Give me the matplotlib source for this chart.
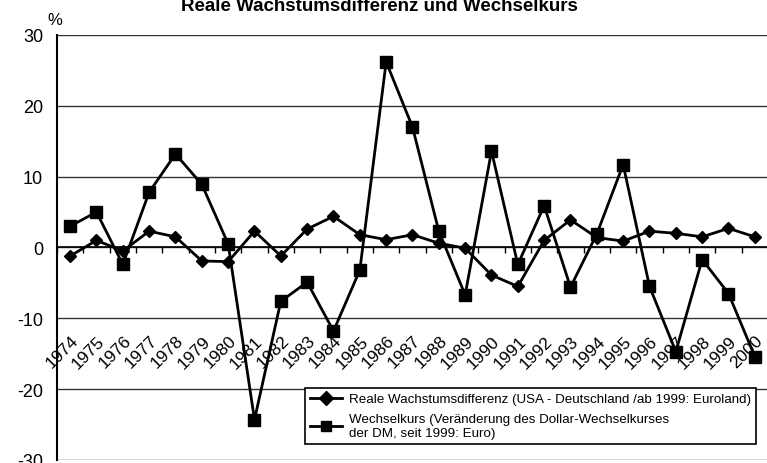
import numpy as np
import matplotlib.pyplot as plt

plt.rcParams['font.family'] = ['Liberation Sans', 'DejaVu Sans']
plt.rcParams['axes.unicode_minus'] = False

years = list(range(1974, 2001))
wachstum = [-1.2, 1.0, -0.5, 2.3, 1.5, -1.9, -2.0, 2.3, -1.2, 2.6, 4.4, 1.8, 1.1,
            1.8, 0.6, -0.1, -3.9, -5.5, 1.0, 3.9, 1.4, 0.9, 2.3, 2.0, 1.5, 2.7, 1.5]
wechselkurs = [3.0, 5.0, -2.4, 7.8, 13.2, 8.9, 0.5, -24.3, -7.6, -4.9, -11.8, -3.2, 26.2,
               17.0, 2.3, -6.7, 13.6, -2.4, 5.9, -5.6, 1.9, 11.7, -5.5, -14.7, -1.7, -6.5, -15.4]
lab_w = 'Reale Wachstumsdifferenz (USA - Deutschland /ab 1999: Euroland)'
lab_k = 'Wechselkurs (Veränderung des Dollar-Wechselkurses\nder DM, seit 1999: Euro)'

fig = plt.figure(figsize=(7.67, 4.64), dpi=100)
ax = fig.add_axes([0.0743, 0.0065, 0.927, 0.916])

x = np.arange(len(years))
ax.plot(x, wachstum, color='black', lw=2, marker='D', ms=6.5, label=lab_w)
ax.plot(x, wechselkurs, color='black', lw=2, marker='s', ms=9, label=lab_k)

ax.set_xlim(-0.5, len(years) - 0.5)
ax.set_ylim(-30, 30)
ax.set_yticks(range(-30, 31, 10))
ax.yaxis.grid(True, color='#333333', lw=1)
ax.set_axisbelow(True)
ax.tick_params(axis='y', length=0, pad=10, labelsize=13)

for s in ['top', 'right']:
    ax.spines[s].set_visible(False)
ax.spines['left'].set_linewidth(1.5)
ax.spines['bottom'].set_position(('data', 0))
ax.spines['bottom'].set_linewidth(1.2)
ax.set_xticks([])
ax.set_xticks(np.arange(-0.5, len(years)), minor=True)
ax.tick_params(axis='x', which='minor', direction='out', length=4, width=1, labelbottom=False)

for i, yr in enumerate(years):
    ax.text(i - 0.3, -14.7, str(yr), rotation=45, ha='center', va='center', fontsize=12.5)

leg = ax.legend(loc='lower right', bbox_to_anchor=(0.993, 0.021), fontsize=9.6,
                fancybox=False, edgecolor='black', framealpha=1, handlelength=2.4,
                borderpad=0.4, labelspacing=0.6, handletextpad=0.5)
leg.get_frame().set_linewidth(1.2)
for h in leg.legend_handles:
    h.set_markersize(7)

fig.text(0.495, 0.985, 'Reale Wachstumsdifferenz und Wechselkurs', ha='center', va='center',
         fontsize=13.5, fontweight='bold')
fig.text(0.072, 0.955, '%', ha='center', va='center', fontsize=12)

fig.savefig('out.png', dpi=100)
